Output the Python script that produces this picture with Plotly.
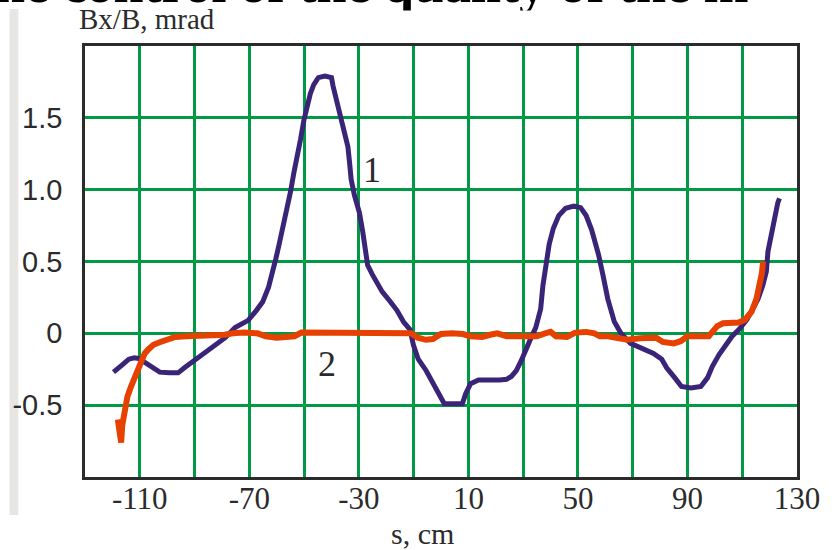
import plotly.graph_objects as go

# ---------------- data ----------------
s1 = [-119.6, -118.0, -116.4, -114.0, -112.0, -110.4, -108.3, -106.3, -104.5, -102.7,
      -99.2, -96.0, -93.7, -90.1, -86.0, -82.4, -78.8, -75.2, -72.5, -70.4,
      -67.4, -65.1, -63.0, -61.5, -60.3, -59.1, -57.3, -56.1, -54.9, -53.7,
      -52.5, -51.3, -50.1, -48.9, -47.7, -46.5, -44.8, -42.4, -40.0, -39.4,
      -38.2, -37.0, -35.8, -34.0, -33.4, -32.8, -31.6, -29.8, -28.6, -27.4,
      -26.8, -25.1, -21.5, -18.5, -16.1, -13.7, -11.3, -10.1, -8.3, -5.4,
      -3.0, -0.6, 1.2, 7.8, 9.0, 10.8, 13.7, 21.5, 23.9, 25.7,
      27.5, 29.3, 31.1, 32.9, 34.6, 35.8, 36.4, 37.2, 38.2, 39.5,
      41.0, 43.0, 45.5, 48.5, 51.0, 53.0, 55.0, 56.5, 57.5, 59.1,
      60.9, 63.3, 65.7, 69.2, 72.8, 77.6, 80.6, 82.4, 85.4, 87.8,
      91.3, 94.9, 97.3, 99.1, 101.5, 103.9, 106.3, 108.7, 111.7, 114.0,
      115.8, 117.6, 118.8, 119.4, 120.6, 121.8, 123.0, 123.6]
v1 = [-0.27, -0.25, -0.22, -0.18, -0.17, -0.175, -0.20, -0.23, -0.25, -0.27,
      -0.275, -0.275, -0.24, -0.19, -0.14, -0.08, -0.03, 0.04, 0.07, 0.09,
      0.16, 0.22, 0.32, 0.42, 0.52, 0.62, 0.77, 0.89, 0.99, 1.12,
      1.22, 1.35, 1.48, 1.59, 1.67, 1.73, 1.78, 1.79, 1.78, 1.72,
      1.63, 1.51, 1.42, 1.30, 1.19, 1.07, 0.96, 0.84, 0.71, 0.54,
      0.475, 0.41, 0.29, 0.22, 0.16, 0.08, 0.025, -0.08, -0.18, -0.26,
      -0.35, -0.44, -0.49, -0.49, -0.42, -0.35, -0.325, -0.325, -0.32, -0.30,
      -0.26, -0.19, -0.10, -0.03, 0.04, 0.11, 0.17, 0.33, 0.48, 0.62,
      0.73, 0.82, 0.87, 0.885, 0.875, 0.82, 0.72, 0.62, 0.55, 0.41,
      0.24, 0.08, 0.0, -0.07, -0.10, -0.14, -0.18, -0.24, -0.31, -0.37,
      -0.38, -0.37, -0.31, -0.23, -0.15, -0.08, -0.02, 0.025, 0.095, 0.175,
      0.24, 0.34, 0.43, 0.57, 0.68, 0.82, 0.91, 0.94]

s2 = [-118.0, -117.4, -116.8, -116.4, -115.5, -114.5, -113.2, -111.8, -110.6, -109.5,
      -108.2, -106.8, -105.0, -102.5, -100.0, -97.0, -93.0, -88.0, -83.0, -79.0,
      -76.0, -72.0, -67.0, -64.0, -60.0, -56.0, -53.5, -51.0, -47.0, -44.0,
      -38.0, -32.0, -26.0, -20.0, -15.0, -11.0, -8.5, -5.5, -3.0, 0.0,
      4.0, 8.0, 10.5, 15.0, 18.0, 20.5, 24.0, 30.0, 35.0, 38.0,
      40.0, 42.0, 46.0, 49.0, 53.0, 56.0, 58.0, 61.0, 64.0, 68.0,
      72.7, 76.0, 78.5, 81.0, 85.0, 87.5, 90.0, 94.0, 97.8, 99.1,
      100.9, 103.0, 106.0, 108.7, 111.0, 113.4, 115.2, 116.4, 117.2, 117.6]
v2 = [-0.60, -0.68, -0.76, -0.64, -0.52, -0.44, -0.37, -0.30, -0.24, -0.18,
      -0.14, -0.11, -0.08, -0.06, -0.04, -0.025, -0.02, -0.02, -0.015, -0.01,
      0.0, 0.005, 0.0, -0.02, -0.03, -0.03, -0.02, 0.005, 0.005, 0.0,
      0.0, 0.005, 0.0, 0.0, 0.005, 0.0, -0.03, -0.045, -0.04, -0.005,
      0.0, -0.005, -0.02, -0.025, -0.01, 0.0, -0.02, -0.02, -0.02, 0.0,
      0.01, -0.02, -0.025, 0.005, 0.01, 0.0, -0.02, -0.02, -0.035, -0.045,
      -0.035, -0.03, -0.03, -0.06, -0.07, -0.055, -0.02, -0.02, -0.02, 0.01,
      0.05, 0.07, 0.07, 0.075, 0.095, 0.15, 0.24, 0.34, 0.42, 0.50]

x_tickvals = [-110, -90, -70, -50, -30, -10, 10, 30, 50, 70, 90, 110, 130]
x_ticktext = ["-110", "", "-70", "", "-30", "", "10", "", "50", "", "90", "", "130"]
y_tickvals = [-0.5, 0, 0.5, 1.0, 1.5]
y_ticktext = ["-0.5", "0", "0.5", "1.0", "1.5"]
x_range = [-130, 130]
y_range = [-1.0, 2.0]

x_title = "s, cm"
y_title = "Bx/B, mrad"
slide_text = "the control of the quality of the m"
curve_labels = ["1", "2"]
label_s = [-25.1, -41.7]
label_v = [1.135, -0.213]

# ---------------- layout geometry ----------------
W, H = 832, 550
L, R, T, B = 77, 803, 46, 477  # plot area in pixels


def px(xp):
    return (xp - L) / (R - L)


def py(yp):
    return (B - yp) / (B - T)


GREEN = "#009944"
AXIS = "#2b2b2b"
PURPLE = "#3a2478"
ORANGE = "#e64100"

fig = go.Figure()
fig.add_trace(go.Scatter(x=s1, y=v1, mode="lines",
                         line=dict(color=PURPLE, width=5), showlegend=False))
fig.add_trace(go.Scatter(x=s2, y=v2, mode="lines",
                         line=dict(color=ORANGE, width=6), showlegend=False))

annotations = []
# slide title fragment (cut at top)
annotations.append(dict(text=slide_text, xref="paper", yref="paper",
                        x=px(-35), y=py(-16), xanchor="left", yanchor="middle",
                        showarrow=False,
                        font=dict(family="Liberation Serif", size=54, color="#000000",
                                  weight="bold")))
# cover for the part below the baseline (chart image lies over the slide)
annotations.append(dict(text=" ", xref="paper", yref="paper",
                        x=px(216), y=py(10), xanchor="left", yanchor="top",
                        width=616, height=18, bgcolor="#ffffff", borderpad=0,
                        showarrow=False, font=dict(size=10)))
annotations.append(dict(text=y_title, xref="paper", yref="paper",
                        x=px(69), y=py(19), xanchor="left", yanchor="middle",
                        showarrow=False,
                        font=dict(family="Liberation Serif", size=29, color=AXIS)))
annotations.append(dict(text=x_title, xref="paper", yref="paper",
                        x=px(421), y=py(533), xanchor="center", yanchor="middle",
                        showarrow=False,
                        font=dict(family="Liberation Serif", size=30, color=AXIS)))
for t, sx, vy in zip(curve_labels, label_s, label_v):
    annotations.append(dict(text=t, xref="x", yref="y", x=sx, y=vy,
                            xanchor="center", yanchor="middle", showarrow=False,
                            font=dict(family="Liberation Serif", size=36, color=AXIS)))

shapes = [dict(type="rect", xref="paper", yref="paper",
               x0=px(0), x1=px(9), y0=py(515), y1=py(9),
               fillcolor="#e8e6e2", line=dict(width=0), layer="below")]

fig.update_layout(
    width=W, height=H,
    margin=dict(l=L, r=W - R, t=T, b=H - B, pad=0),
    paper_bgcolor="#ffffff", plot_bgcolor="#ffffff",
    annotations=annotations, shapes=shapes,
    xaxis=dict(range=x_range, tickmode="array", tickvals=x_tickvals, ticktext=x_ticktext,
               showgrid=True, gridcolor=GREEN, gridwidth=2.5, zeroline=False,
               showline=True, mirror=True, linecolor=AXIS, linewidth=3,
               ticks="", ticklabelstandoff=-8,
               tickfont=dict(family="Liberation Serif", size=31, color=AXIS)),
    yaxis=dict(range=y_range, tickmode="array", tickvals=y_tickvals, ticktext=y_ticktext,
               showgrid=True, gridcolor=GREEN, gridwidth=2.5, zeroline=False,
               showline=True, mirror=True, linecolor=AXIS, linewidth=2.5,
               ticks="", ticklabelstandoff=14,
               tickfont=dict(family="Liberation Sans", size=29, color=AXIS)),
)

fig.write_html("out.html")
